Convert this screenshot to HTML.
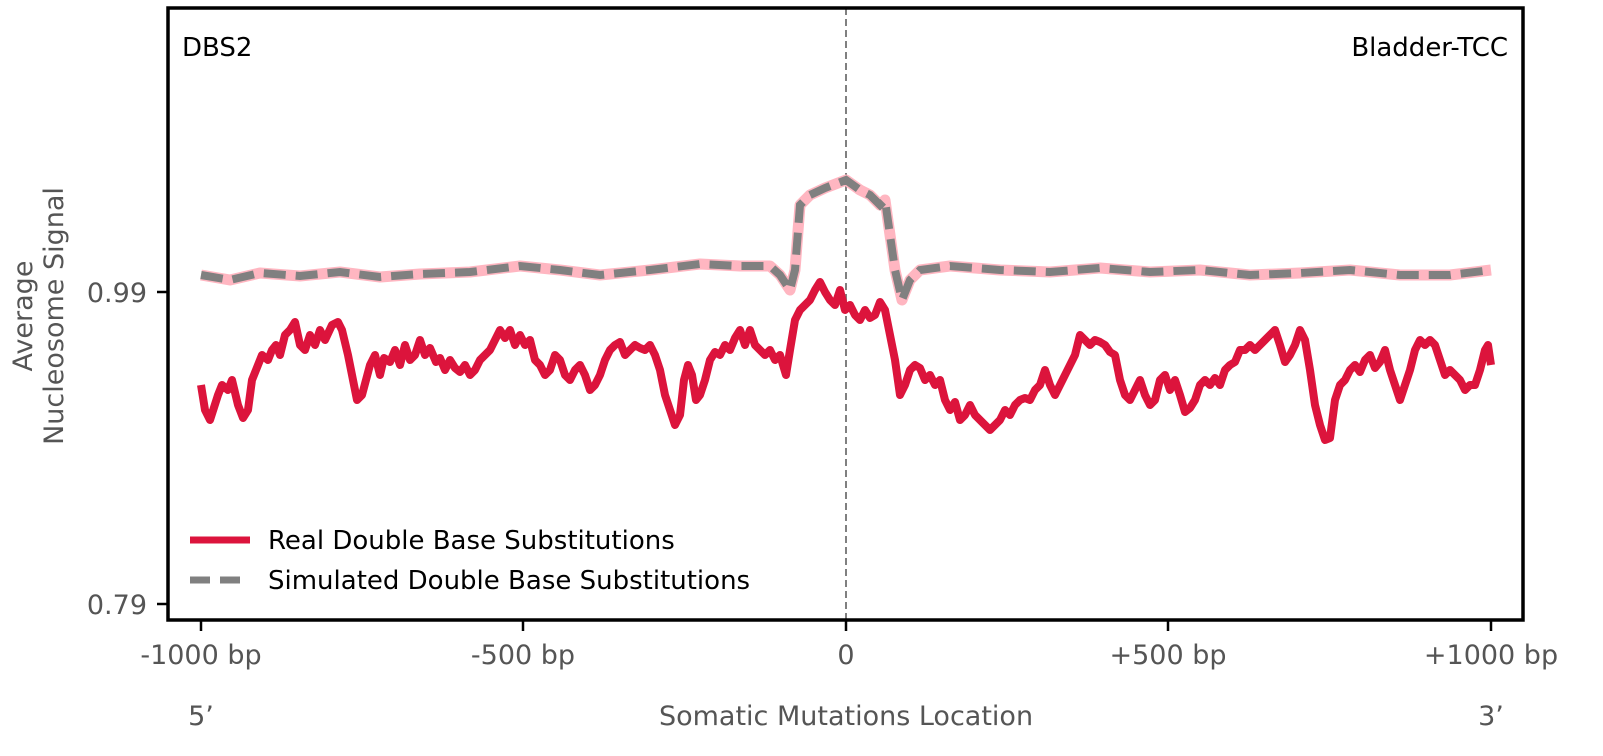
<!DOCTYPE html>
<html><head><meta charset="utf-8"><style>
html,body{margin:0;padding:0;background:#fff;overflow:hidden;width:1603px;height:756px}
svg{display:block}
svg text{font-family:"DejaVu Sans","Liberation Sans",sans-serif}
</style></head><body>
<svg width="1603" height="756" viewBox="0 0 1603 756" xmlns="http://www.w3.org/2000/svg">
<rect width="1603" height="756" fill="#fff"/>
<line x1="846" y1="8" x2="846" y2="620" stroke="#808080" stroke-width="2" stroke-dasharray="7,4"/>
<polyline fill="none" stroke="#ffb6c1" stroke-width="11" stroke-linejoin="round" points="201,275 230,280 260,273 300,276 340,272 380,277 420,274 470,272 520,266 560,270 600,275 650,270 700,264 740,266 770,266 780,275 790,290 795,270 800,205 810,195 825,188 846,180 860,190 870,195 880,205 885,200 890,235 895,270 902,300 910,280 920,270 950,266 1000,270 1050,272 1100,268 1150,272 1200,270 1250,275 1300,273 1350,270 1400,275 1450,275 1491,270"/>
<polyline fill="none" stroke="#808080" stroke-width="8" stroke-dasharray="22,10" points="201,275 230,280 260,273 300,276 340,272 380,277 420,274 470,272 520,266 560,270 600,275 650,270 700,264 740,266 770,266 780,275 790,290 795,270 800,205 810,195 825,188 846,180 860,190 870,195 880,205 885,200 890,235 895,270 902,300 910,280 920,270 950,266 1000,270 1050,272 1100,268 1150,272 1200,270 1250,275 1300,273 1350,270 1400,275 1450,275 1491,270"/>
<polyline fill="none" stroke="#dc143c" stroke-width="8" stroke-linejoin="round" points="201,385 205,410 210,420 218,395 222,385 228,390 232,380 238,405 243,418 248,410 252,380 258,365 262,355 268,360 272,350 276,345 280,355 285,335 290,330 295,322 300,345 305,350 310,335 315,345 320,330 325,340 332,325 338,322 342,330 348,355 352,375 357,400 362,395 366,380 370,365 375,355 380,375 384,358 390,362 395,350 400,365 405,345 410,360 415,355 420,340 425,355 430,348 436,362 440,358 445,370 450,360 455,368 460,372 465,365 470,375 475,370 480,360 485,355 490,350 495,340 500,330 505,338 510,330 515,345 520,335 525,345 530,340 535,360 540,365 545,375 550,370 555,355 560,360 565,375 570,380 575,370 580,365 585,375 590,390 595,385 600,375 605,360 610,350 615,345 620,342 625,355 630,350 635,345 640,348 645,350 650,345 655,355 660,370 665,395 670,410 675,425 680,415 684,380 688,365 692,375 696,400 700,395 705,380 710,360 715,352 720,355 725,345 730,350 735,338 740,330 745,345 750,330 755,345 760,350 765,355 770,350 775,360 780,355 786,375 790,350 795,320 800,310 805,305 810,300 815,290 820,282 825,292 830,300 835,305 840,290 845,310 850,305 855,315 860,320 865,310 870,318 875,315 880,302 885,310 890,335 895,360 900,395 905,385 910,370 915,365 920,368 925,380 930,375 935,385 940,380 945,400 950,410 955,402 960,420 965,415 970,405 975,415 980,420 985,425 990,430 995,425 1000,420 1005,410 1010,415 1015,405 1020,400 1025,398 1030,400 1035,390 1040,385 1045,370 1050,385 1055,395 1060,385 1065,375 1070,365 1075,355 1080,335 1085,340 1090,345 1095,340 1100,342 1105,345 1110,352 1115,355 1120,380 1125,395 1130,400 1135,390 1140,380 1145,395 1150,405 1155,400 1160,380 1165,375 1170,390 1175,380 1180,395 1185,412 1190,408 1195,400 1200,385 1205,380 1210,385 1215,378 1220,385 1225,370 1230,365 1235,362 1240,350 1245,350 1250,345 1255,350 1260,345 1265,340 1270,335 1275,330 1280,345 1285,362 1290,355 1295,345 1300,330 1305,340 1310,370 1315,405 1320,425 1325,440 1330,438 1335,400 1340,385 1345,380 1350,370 1355,365 1360,372 1365,360 1370,355 1375,368 1380,362 1385,350 1390,370 1395,385 1400,400 1405,385 1410,370 1415,350 1420,340 1425,345 1430,340 1435,345 1440,360 1445,375 1450,370 1455,375 1460,380 1465,390 1470,385 1475,385 1480,370 1485,350 1488,345 1491,365"/>
<rect x="168" y="8" width="1355" height="612" fill="none" stroke="#000" stroke-width="3.5"/>
<g stroke="#000" stroke-width="2.5">
<line x1="201" y1="620" x2="201" y2="631"/><line x1="523" y1="620" x2="523" y2="631"/><line x1="846" y1="620" x2="846" y2="631"/><line x1="1168" y1="620" x2="1168" y2="631"/><line x1="1491" y1="620" x2="1491" y2="631"/>
<line x1="157" y1="292" x2="168" y2="292"/><line x1="157" y1="604" x2="168" y2="604"/>
</g>
<g fill="#555" font-size="27" text-anchor="middle">
<text x="201" y="664">-1000 bp</text><text x="523" y="664">-500 bp</text><text x="846" y="664">0</text><text x="1168" y="664">+500 bp</text><text x="1491" y="664">+1000 bp</text>
<text x="201" y="725">5’</text><text x="1491" y="725">3’</text>
<text x="846" y="725">Somatic Mutations Location</text>
</g>
<g fill="#555" font-size="27" text-anchor="end">
<text x="147" y="302">0.99</text><text x="147" y="614">0.79</text>
</g>
<text transform="translate(32,316) rotate(-90)" fill="#555" font-size="27" text-anchor="middle">Average</text>
<text transform="translate(63,316) rotate(-90)" fill="#555" font-size="27" text-anchor="middle">Nucleosome Signal</text>
<text x="182" y="56" font-size="26" fill="#000">DBS2</text>
<text x="1508" y="56" font-size="26" fill="#000" text-anchor="end">Bladder-TCC</text>
<line x1="190" y1="540" x2="250" y2="540" stroke="#dc143c" stroke-width="7"/>
<line x1="190" y1="580" x2="250" y2="580" stroke="#808080" stroke-width="7" stroke-dasharray="20,10"/>
<text x="268" y="549" font-size="26" fill="#000">Real Double Base Substitutions</text>
<text x="268" y="589" font-size="26" fill="#000">Simulated Double Base Substitutions</text>
</svg>
</body></html>
